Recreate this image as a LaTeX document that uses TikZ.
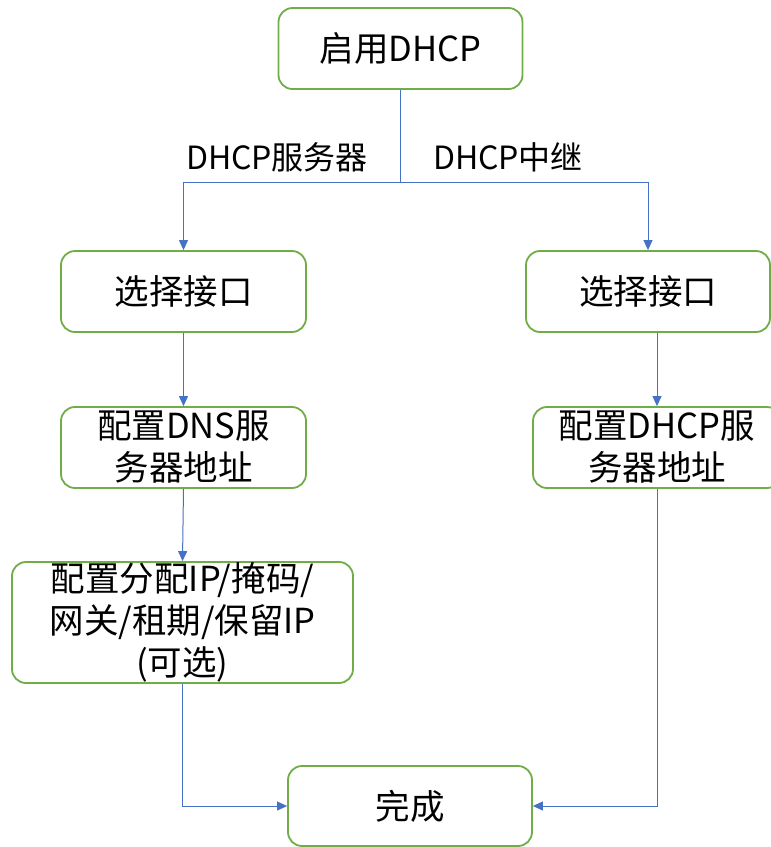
\documentclass[tikz,border=0pt]{standalone}
\usepackage{fontspec}
\setmainfont{Noto Sans CJK SC}
\usetikzlibrary{arrows.meta}
\definecolor{boxgreen}{HTML}{70AD47}
\definecolor{lineblue}{HTML}{4472C4}
\begin{document}
\begin{tikzpicture}[x=1pt,y=-1pt,
  box/.style={draw=boxgreen, line width=1.8pt, rounded corners=14pt, inner sep=0pt,
    align=center, font=\fontsize{34.5}{42}\selectfont},
  conn/.style={draw=lineblue, line width=1pt, -{Triangle[length=10pt,width=9pt]}},
  plain/.style={draw=lineblue, line width=1pt},
  lbl/.style={font=\fontsize{32}{36}\selectfont, inner sep=0pt}]
\useasboundingbox (0,0) rectangle (771,847);
\node[box, minimum width=244pt, minimum height=81pt] (start) at (400.5,48.5) {启用DHCP};
\node[box, minimum width=245pt, minimum height=81pt] (sel1) at (183.5,291.5) {选择接口};
\node[box, minimum width=244pt, minimum height=81pt] (sel2) at (648,291.5) {选择接口};
\node[box, minimum width=245pt, minimum height=81pt] (dns) at (183.5,447.5) {配置DNS服\\务器地址};
\node[box, minimum width=248pt, minimum height=81pt] (dhcp) at (657,447.5) {配置DHCP服\\务器地址};
\node[box, minimum width=341pt, minimum height=121pt] (opt) at (182.5,622.5) {配置分配IP/掩码/\\网关/租期/保留IP\\(可选)};
\node[box, minimum width=244pt, minimum height=80pt] (done) at (410,806) {完成};
\node[lbl] (l1) at (277,157) {DHCP服务器};
\node[lbl] (l2) at (508,157) {DHCP中继};
\draw[plain] (start.south) -- ++(0,93) coordinate (split);
\draw[conn] (split) -| (sel1.north);
\draw[conn] (split) -| (sel2.north);
\draw[conn] (sel1.south) -- (dns.north);
\draw[conn] (dhcp.north |- sel2.south) -- (dhcp.north);
\draw[conn] (dns.south) -- (opt.north);
\draw[conn] (opt.south) |- (done.west);
\draw[conn] (dhcp.south) |- (done.east);
\end{tikzpicture}
\end{document}
